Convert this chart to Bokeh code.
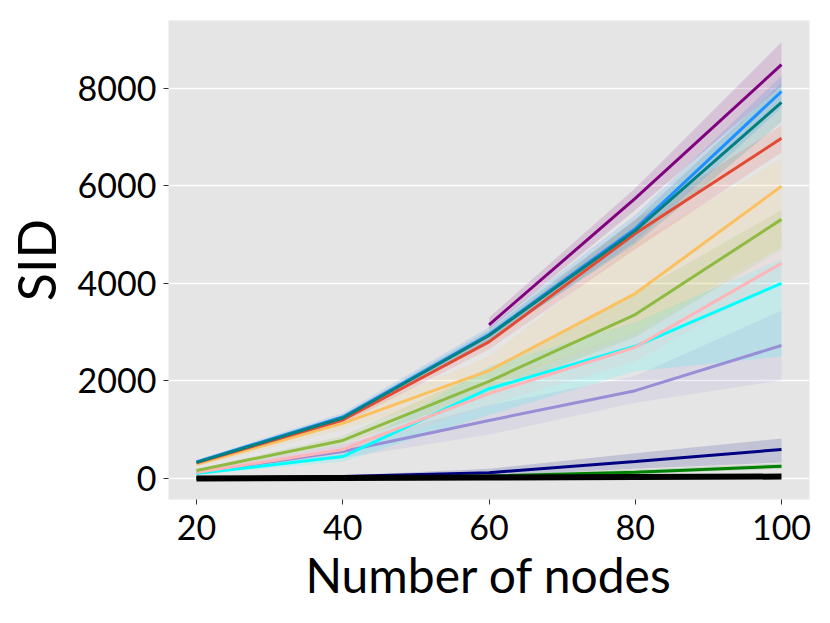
import math
from bokeh.plotting import figure
from bokeh.models import Range1d, FixedTicker
from bokeh.embed import file_html
from bokeh.resources import INLINE

NAN = float("nan")

nodes = [20, 40, 60, 80, 100]
x_ticks = [20, 40, 60, 80, 100]
y_ticks = [0, 2000, 4000, 6000, 8000]

purple_mean = [NAN, NAN, 3150, 5740, 8480]
purple_lo = [NAN, NAN, 3050, 5500, 8050]
purple_hi = [NAN, NAN, 3300, 5950, 8940]

blue_mean = [340, 1260, 2950, 5120, 7930]
blue_lo = [300, 1180, 2800, 4850, 7600]
blue_hi = [380, 1340, 3100, 5400, 8250]

teal_mean = [330, 1240, 2930, 5080, 7705]
teal_lo = [300, 1180, 2820, 4800, 7300]
teal_hi = [360, 1300, 3040, 5300, 8100]

red_mean = [320, 1200, 2800, 5020, 6970]
red_lo = [290, 1120, 2650, 4700, 6680]
red_hi = [350, 1280, 2950, 5300, 7240]

orange_mean = [290, 1130, 2210, 3790, 5990]
orange_lo = [250, 1000, 1900, 3000, 4750]
orange_hi = [330, 1250, 2500, 4800, 6560]

green_mean = [165, 780, 1990, 3360, 5310]
green_lo = [140, 700, 1750, 2900, 4700]
green_hi = [190, 870, 2250, 3800, 5500]

pink_mean = [125, 595, 1740, 2690, 4410]
pink_lo = [100, 520, 1500, 2400, 4100]
pink_hi = [150, 680, 2000, 3000, 4700]

cyan_mean = [100, 450, 1840, 2710, 4000]
cyan_lo = [80, 350, 1300, 2200, 2500]
cyan_hi = [120, 520, 2300, 3200, 4500]

lavender_mean = [120, 555, 1190, 1800, 2725]
lavender_lo = [90, 420, 900, 1550, 2010]
lavender_hi = [150, 700, 1500, 2100, 3440]

navy_mean = [10, 40, 120, 350, 595]
navy_lo = [0, 20, 60, 200, 330]
navy_hi = [20, 60, 200, 520, 820]

dgreen_mean = [5, 20, 50, 130, 250]
dgreen_lo = [0, 10, 30, 90, 200]
dgreen_hi = [10, 30, 80, 180, 310]

black_mean = [0, 10, 20, 30, 40]

series = [
    ("#988ED5", lavender_mean, lavender_lo, lavender_hi),
    ("#00FFFF", cyan_mean, cyan_lo, cyan_hi),
    ("#FFB5B8", pink_mean, pink_lo, pink_hi),
    ("#8EBA42", green_mean, green_lo, green_hi),
    ("#FBC15E", orange_mean, orange_lo, orange_hi),
    ("#E24A33", red_mean, red_lo, red_hi),
    ("#1E90FF", blue_mean, blue_lo, blue_hi),
    ("#008080", teal_mean, teal_lo, teal_hi),
    ("#800080", purple_mean, purple_lo, purple_hi),
    ("#000080", navy_mean, navy_lo, navy_hi),
    ("#008000", dgreen_mean, dgreen_lo, dgreen_hi),
]

FONT = "Lato"

p = figure(width=826, height=620, output_backend="svg", toolbar_location=None,
           x_range=Range1d(16.17, 103.83), y_range=Range1d(-430, 9385),
           min_border_left=168, min_border_right=17, min_border_top=20,
           min_border_bottom=121)

p.background_fill_color = "#E5E5E5"
p.border_fill_color = "white"
p.outline_line_color = None

for color, m, lo, hi in series:
    p.varea(x=nodes, y1=lo, y2=hi, fill_color=color, fill_alpha=0.15)

for color, m, lo, hi in series:
    p.line(x=nodes, y=m, line_color=color, line_width=3)

p.line(x=nodes, y=black_mean, line_color="black", line_width=6)

p.xaxis.ticker = FixedTicker(ticks=x_ticks)
p.yaxis.ticker = FixedTicker(ticks=y_ticks)
p.xgrid.grid_line_color = None
p.ygrid.grid_line_color = "white"
p.ygrid.grid_line_width = 1.5

for ax in (p.xaxis, p.yaxis):
    ax.axis_line_color = None
    ax.major_tick_line_color = "#333333"
    ax.major_tick_line_width = 1
    ax.major_tick_in = 0
    ax.major_tick_out = 5
    ax.minor_tick_line_color = None
    ax.major_label_text_font = FONT
    ax.major_label_text_font_size = "34px"
    ax.major_label_text_color = "black"
    ax.axis_label_text_font = FONT
    ax.axis_label_text_font_style = "normal"
    ax.axis_label_text_color = "black"

p.yaxis.major_label_standoff = 7
p.xaxis.major_label_standoff = 10

p.xaxis.axis_label = "Number of nodes"
p.xaxis.axis_label_text_font_size = "48px"
p.xaxis.axis_label_standoff = 3
p.yaxis.axis_label = "SID"
p.yaxis.axis_label_text_font_size = "52px"
p.yaxis.axis_label_standoff = 8

open("out.html", "w").write(file_html(p, INLINE))
